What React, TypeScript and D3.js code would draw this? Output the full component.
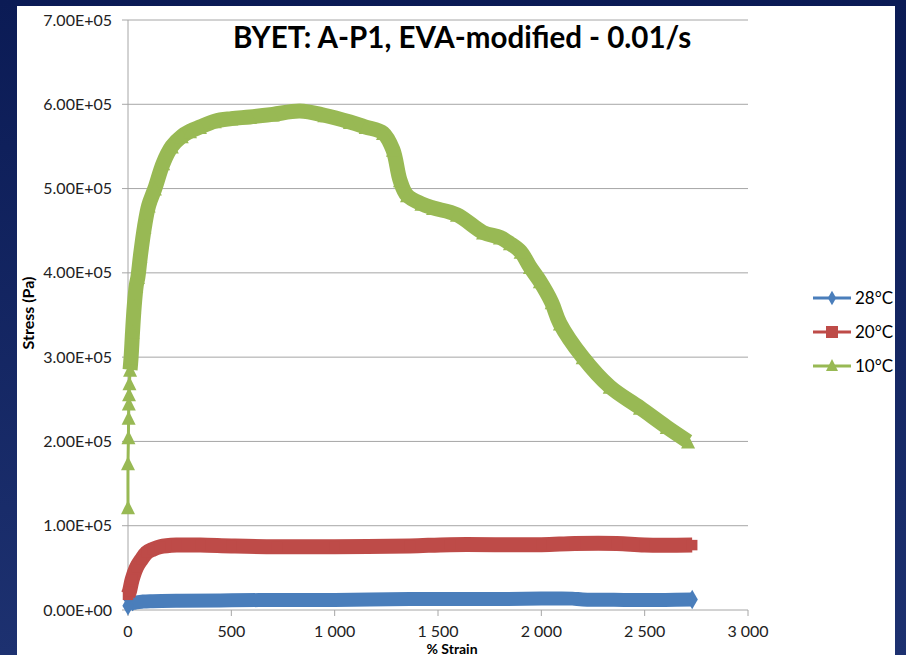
import React from "react";
import * as d3 from "d3";

const title = "BYET: A-P1, EVA-modified - 0.01/s";
const seriesNames = ["28°C", "20°C", "10°C"];
const seriesColors = ["#4a7ebb", "#be4b48", "#98b954"];

const xTicks = [0, 500, 1000, 1500, 2000, 2500, 3000];
const yTicks = [0, 100000, 200000, 300000, 400000, 500000, 600000, 700000];

// 28°C
const strain28 = [0, 20, 73, 120, 250, 500, 800, 1000, 1364, 1500, 1800, 2000, 2150, 2200, 2400, 2600, 2730];
const stress28 = [5000, 8000, 10000, 10500, 11000, 11500, 12000, 12000, 13000, 13000, 13000, 13500, 13500, 12500, 12000, 12000, 12500];

// 20°C
const strain20 = [0, 7, 20, 42, 65, 90, 120, 155, 235, 350, 500, 720, 1000, 1364, 1558, 2000, 2162, 2366, 2500, 2730];
const stress20 = [18000, 22000, 36000, 51000, 60000, 68000, 72000, 75000, 77000, 77000, 76000, 75000, 75000, 76000, 77500, 77500, 79000, 79000, 77000, 77000];

// 10°C
const strain10 = [0, 0, 2, 3, 4, 5, 7, 10, 15, 22, 30, 40, 48, 60, 80, 100, 130, 170, 212, 260, 300, 348, 420, 500, 590, 700, 832, 950, 1074, 1150, 1234, 1282, 1316, 1350, 1420, 1476, 1592, 1718, 1800, 1848, 1900, 1945, 1993, 2050, 2090, 2200, 2331, 2477, 2607, 2710];
const stress10 = [122000, 174000, 205000, 228000, 245000, 256000, 269000, 285000, 300000, 330000, 360000, 385000, 395000, 420000, 455000, 480000, 500000, 530000, 550000, 562000, 568000, 573000, 580000, 583000, 585000, 588000, 592000, 587000, 579000, 573000, 566000, 546000, 510000, 492000, 482000, 477000, 469000, 448000, 442000, 435000, 425000, 407000, 390000, 365000, 340000, 300000, 265000, 240000, 217000, 200000];

const FONT = "Lato, 'Open Sans', sans-serif";

const fmtY = (v: number) => {
  const [m, e] = v.toExponential(2).split("e");
  const n = Math.abs(+e);
  return `${m}E${+e < 0 ? "-" : "+"}${n < 10 ? "0" + n : n}`;
};
const fmtX = (v: number) => d3.format(",")(v).replace(/,/g, " ");

type Pt = { x: number; y: number };
const zip = (xs: number[], ys: number[]): Pt[] => xs.map((x, i) => ({ x, y: ys[i] }));

export default function App() {
  const width = 906;
  const height = 655;
  const x = d3.scaleLinear().domain([0, 3000]).range([128, 748]);
  const y = d3.scaleLinear().domain([0, 700000]).range([610, 20]);

  const line = d3
    .line<Pt>()
    .x((d) => x(d.x))
    .y((d) => y(d.y))
    .curve(d3.curveCatmullRom.alpha(0.5));

  const s28 = zip(strain28, stress28);
  const s20 = zip(strain20, stress20);
  const s10 = zip(strain10, stress10);
  // the first few 10°C points are sparse, the rest merge into a band
  const s10band = s10.filter((d) => d.y >= 285000 || d.x > 10);

  const diamond = d3.symbol().type(d3.symbolDiamond).size(110)()!;
  const square = d3.symbol().type(d3.symbolSquare).size(110)()!;
  const tri = (cx: number, cy: number, s = 14) =>
    `M${cx},${cy - s / 2}L${cx + s / 2},${cy + s / 2}L${cx - s / 2},${cy + s / 2}Z`;

  const legendY = [298, 332, 366];

  return (
    <div style={{ position: "fixed", left: 0, top: 0 }}>
      <svg width={width} height={height} style={{ display: "block", fontFamily: FONT }}>
        <defs>
          <linearGradient id="bg" x1="0" y1="0" x2="0" y2="1">
            <stop offset="0" stopColor="#0b1b55" />
            <stop offset="1" stopColor="#1d3170" />
          </linearGradient>
        </defs>
        <rect width={width} height={height} fill="url(#bg)" />
        <rect x={17} y={6} width={878} height={649} fill="#ffffff" />

        {/* gridlines + y ticks */}
        {yTicks.map((t) => (
          <g key={t}>
            <line x1={122} x2={t === 0 ? 128 : 748} y1={y(t)} y2={y(t)} stroke="#a6a6a6" strokeWidth={1} />
            <text x={112} y={y(t)} dy="0.35em" textAnchor="end" fontSize={16} fill="#222">
              {fmtY(t)}
            </text>
          </g>
        ))}
        {/* axes */}
        <line x1={x(0)} x2={x(0)} y1={y(700000)} y2={y(0)} stroke="#a6a6a6" />
        <line x1={x(0)} x2={x(3000)} y1={y(0)} y2={y(0)} stroke="#a6a6a6" />
        {xTicks.map((t) => (
          <g key={t}>
            <line x1={x(t)} x2={x(t)} y1={y(0)} y2={y(0) + 6} stroke="#a6a6a6" />
            <text x={x(t)} y={637} textAnchor="middle" fontSize={16} fill="#222">
              {fmtX(t)}
            </text>
          </g>
        ))}

        {/* 28°C */}
        <path d={line(s28)!} fill="none" stroke={seriesColors[0]} strokeWidth={14} strokeLinejoin="round" />
        {[s28[0], s28[s28.length - 1]].map((d, i) => (
          <path key={i} d={diamond} transform={`translate(${x(d.x)},${y(d.y)})`} fill={seriesColors[0]} />
        ))}

        {/* 20°C */}
        <path d={line(s20)!} fill="none" stroke={seriesColors[1]} strokeWidth={15} strokeLinejoin="round" />
        {s20.map((d, i) => (
          <path key={i} d={square} transform={`translate(${x(d.x)},${y(d.y)})`} fill={seriesColors[1]} />
        ))}

        {/* 10°C */}
        <path d={line(s10)!} fill="none" stroke={seriesColors[2]} strokeWidth={3} />
        <path d={line(s10band)!} fill="none" stroke={seriesColors[2]} strokeWidth={15} strokeLinejoin="round" />
        {s10.map((d, i) => (
          <path key={i} d={tri(x(d.x), y(d.y))} fill={seriesColors[2]} />
        ))}

        {/* title */}
        <text x={462} y={48} textAnchor="middle" fontSize={29.5} fontWeight="bold" fill="#000">
          {title}
        </text>

        {/* axis titles */}
        <text transform="translate(34,313) rotate(-90)" textAnchor="middle" fontSize={16} fontWeight="bold" fill="#000">
          Stress (Pa)
        </text>
        <text x={452} y={654} textAnchor="middle" fontSize={14} fontWeight="bold" fill="#000">
          % Strain
        </text>

        {/* legend */}
        {seriesNames.map((n, i) => {
          const ly = legendY[i];
          const c = seriesColors[i];
          return (
            <g key={n}>
              <line x1={813} x2={851} y1={ly} y2={ly} stroke={c} strokeWidth={3} />
              {i === 0 && <path d={d3.symbol().type(d3.symbolDiamond).size(60)()!} transform={`translate(832,${ly})`} fill={c} />}
              {i === 1 && <rect x={826} y={ly - 6} width={12} height={12} fill={c} />}
              {i === 2 && <path d={tri(832, ly - 1, 12)} fill={c} />}
              <text x={855} y={ly} dy="0.35em" fontSize={17} fill="#000">
                {n}
              </text>
            </g>
          );
        })}
      </svg>
    </div>
  );
}
